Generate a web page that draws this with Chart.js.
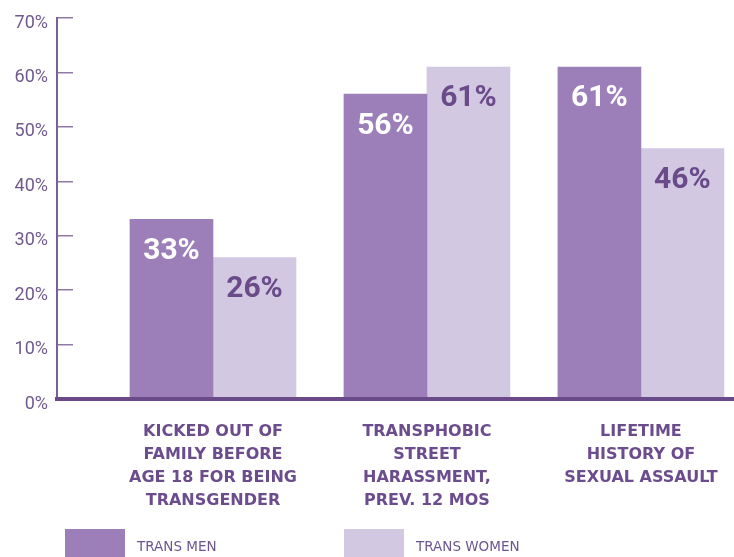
<!DOCTYPE html>
<html>
<head>
<meta charset="utf-8">
<script src="https://cdn.jsdelivr.net/npm/chart.js@4/dist/chart.umd.min.js"></script>
<style>
  html, body { margin: 0; padding: 0; background: #fff; overflow: hidden; }
  #wrap { position: relative; width: 734px; height: 557px; overflow: hidden; }
  #chart { position: absolute; left: 0; top: 0; }
  .legend-item { position: absolute; top: 529px; height: 30px; }
  .legend-swatch { position: absolute; left: 0; top: 0; width: 60px; height: 30px; }
  .legend-text {
    position: absolute; left: 72px; top: 0; line-height: 34px; white-space: nowrap;
    font-family: "DejaVu Sans", sans-serif; font-size: 13.5px; color: #6b5690;
  }
</style>
</head>
<body>
<div id="wrap">
  <canvas id="chart" width="734" height="557"></canvas>
  <div id="legend"></div>
</div>
<script>
// データ
const categories = [
  ['KICKED OUT OF', 'FAMILY BEFORE', 'AGE 18 FOR BEING', 'TRANSGENDER'],
  ['TRANSPHOBIC', 'STREET', 'HARASSMENT,', 'PREV. 12 MOS'],
  ['LIFETIME', 'HISTORY OF', 'SEXUAL ASSAULT']
];
const categoryPos = [1, 2, 3];
const transMen = [33, 56, 61];
const transWomen = [26, 61, 46];
const yTicks = [0, 10, 20, 30, 40, 50, 60, 70];

const MEN_COLOR = '#9c7fb8';
const WOMEN_COLOR = '#d2c8e2';
const DARK = '#6a4a89';

function toPoints(values) {
  return values.map((v, i) => ({ x: categoryPos[i], y: v }));
}

// バー上のラベル
const valueLabels = {
  id: 'valueLabels',
  afterDatasetsDraw(chart) {
    const ctx = chart.ctx;
    ctx.save();
    ctx.font = 'bold 30px Roboto, sans-serif';
    ctx.textAlign = 'center';
    ctx.textBaseline = 'middle';
    chart.data.datasets.forEach((ds, di) => {
      const meta = chart.getDatasetMeta(di);
      ctx.fillStyle = ds.labelColor;
      meta.data.forEach((bar, i) => {
        ctx.fillText(ds.data[i].y + '%', bar.x, bar.y + 32);
      });
    });
    ctx.restore();
  }
};

const chart = new Chart(document.getElementById('chart'), {
  type: 'bar',
  data: {
    datasets: [
      {
        label: 'TRANS MEN',
        data: toPoints(transMen),
        backgroundColor: MEN_COLOR,
        labelColor: '#ffffff',
        barThickness: 83
      },
      {
        label: 'TRANS WOMEN',
        data: toPoints(transWomen),
        backgroundColor: WOMEN_COLOR,
        labelColor: DARK,
        barThickness: 83
      }
    ]
  },
  options: {
    responsive: false,
    animation: false,
    layout: {
      padding: { top: 18, right: 0, bottom: 45, left: 0 }
    },
    plugins: {
      legend: { display: false },
      tooltip: { enabled: false }
    },
    scales: {
      x: {
        type: 'linear',
        offset: false,
        min: 0.271,
        max: 3.435,
        afterFit: (scale) => {
          scale.height = 113;
          scale.paddingLeft = 0;
          scale.paddingRight = 0;
        },
        grid: { display: false, drawTicks: false, offset: false },
        border: { display: true, color: DARK, width: 4, z: 1 },
        ticks: {
          stepSize: 1,
          includeBounds: false,
          autoSkip: false,
          maxRotation: 0,
          padding: 21,
          color: '#6b4c8c',
          font: { family: '"DejaVu Sans", sans-serif', weight: 'bold', size: 16, lineHeight: '23px' },
          callback: (v) => categories[categoryPos.indexOf(v)] || ''
        }
      },
      y: {
        min: yTicks[0],
        max: yTicks[yTicks.length - 1],
        afterFit: (scale) => {
          scale.width = 57;
          scale.paddingTop = 0;
          scale.paddingBottom = 0;
        },
        afterBuildTicks: (scale) => { scale.ticks = yTicks.map(v => ({ value: v })); },
        grid: {
          drawOnChartArea: false,
          drawTicks: true,
          tickLength: -16,
          color: '#8d78a8',
          lineWidth: 1.5
        },
        border: { display: true, color: '#7b5f9c', width: 2 },
        ticks: {
          padding: 25,
          labelOffset: 5,
          color: '#70598f',
          font: { family: 'Roboto, sans-serif', size: 18 },
          callback: (v) => v + '%'
        }
      }
    }
  },
  plugins: [valueLabels]
});

// 凡例（HTML）
const legendPos = [65, 344];
const legendEl = document.getElementById('legend');
chart.data.datasets.forEach((ds, i) => {
  const item = document.createElement('div');
  item.className = 'legend-item';
  item.style.left = legendPos[i] + 'px';
  item.innerHTML = '<div class="legend-swatch" style="background:' + ds.backgroundColor + '"></div>' +
    '<div class="legend-text">' + ds.label + '</div>';
  legendEl.appendChild(item);
});
</script>
</body>
</html>
